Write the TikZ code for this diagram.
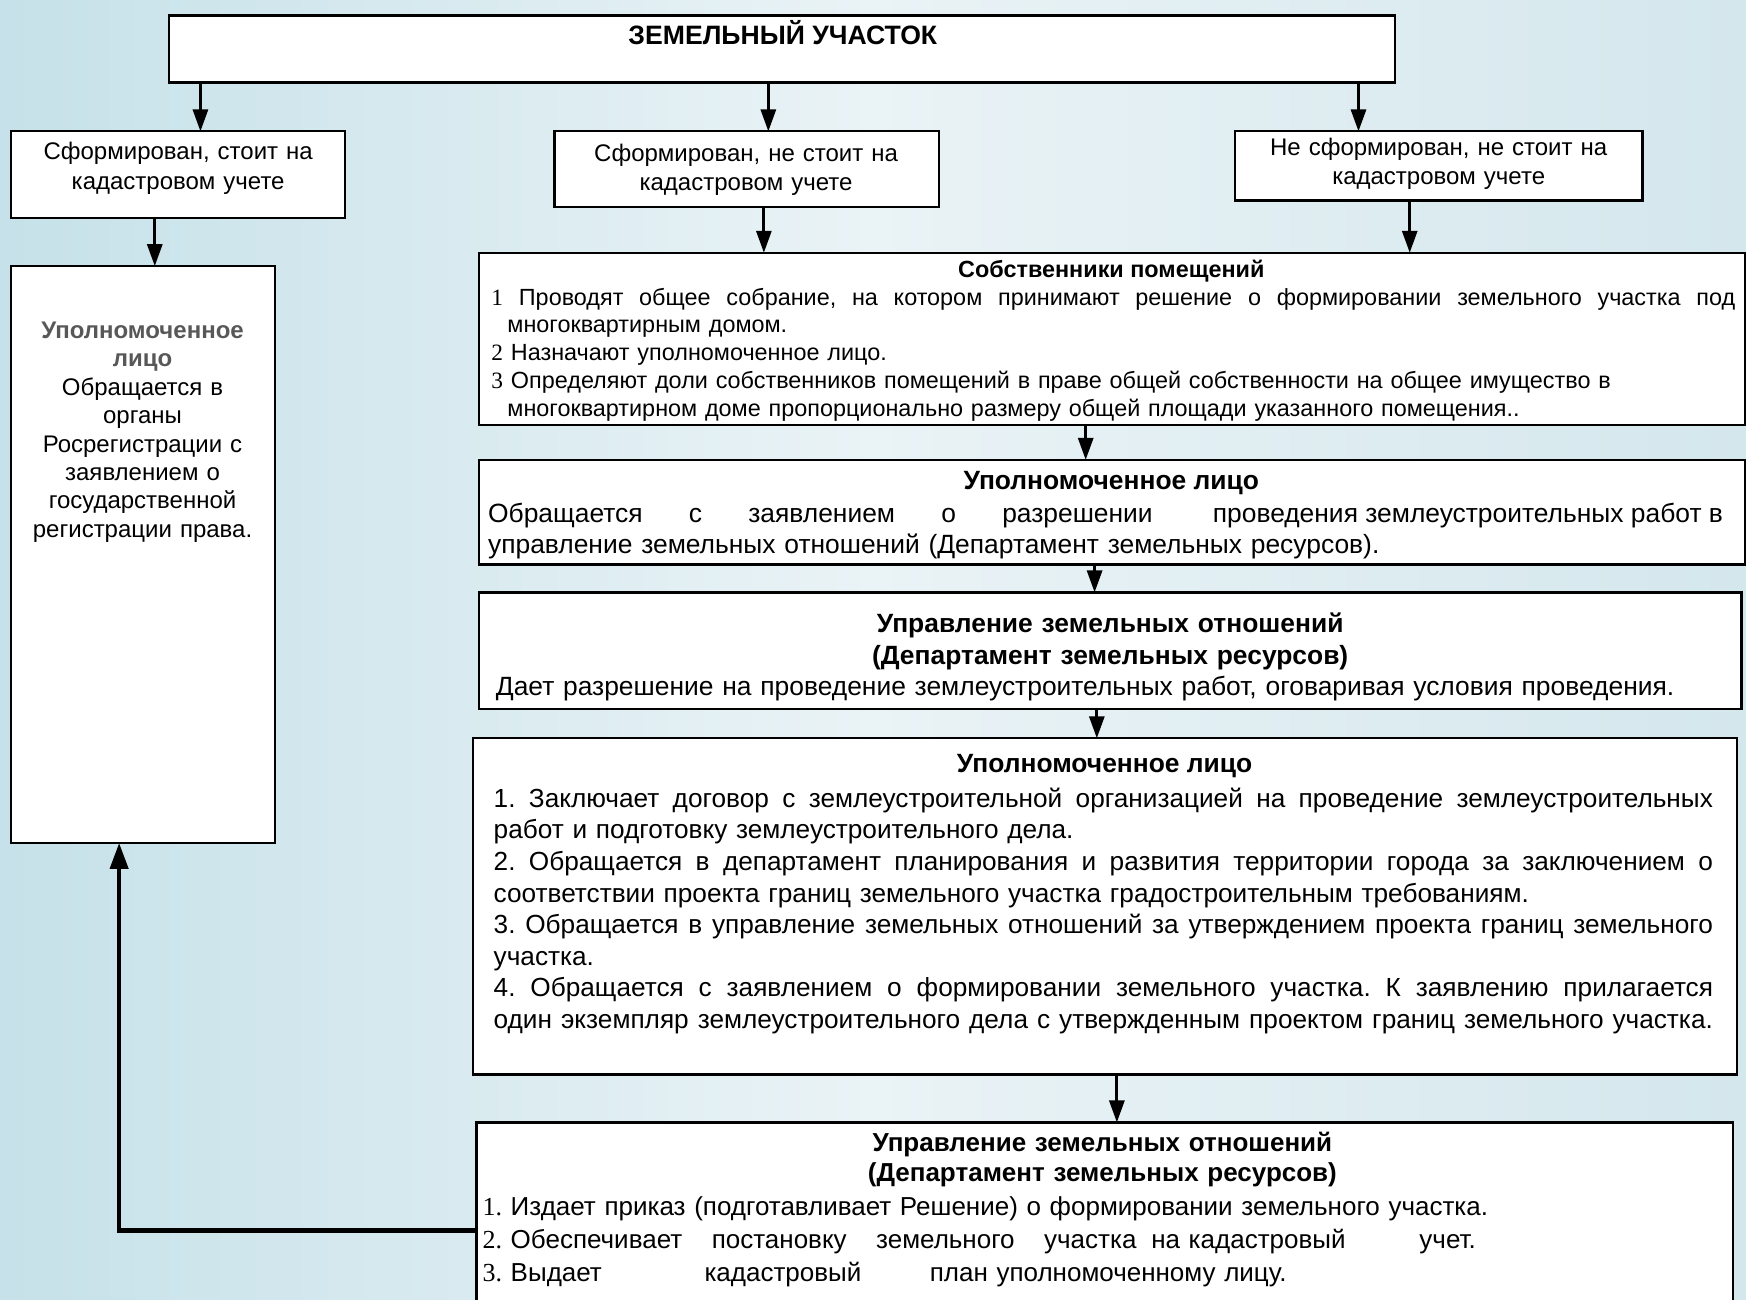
\documentclass[tikz,border=0pt]{standalone}
\usepackage{fontspec}
\setmainfont{Liberation Sans}
\newfontfamily\dg{Liberation Serif}
\usetikzlibrary{arrows.meta}
\definecolor{bgl}{RGB}{198,225,233}
\definecolor{bgm}{RGB}{234,243,246}
\definecolor{bgr}{RGB}{212,231,237}
\definecolor{ttlgray}{RGB}{88,88,88}
\newcommand\JLine[1]{{\spaceskip=0pt\xspaceskip=0pt\makebox[\linewidth][s]{#1}}}
\newcommand\LLine[1]{\makebox[\linewidth][l]{#1}}
\newcommand\mkbox[5]{\node[box,minimum width={(#4-#2)*0.5568pt},minimum height={(#5-#3)*0.5568pt}] (#1) at (#2,#3) {};}
\frenchspacing
\begin{document}
\begin{tikzpicture}[x=0.5568pt,y=-0.5568pt,
  box/.style={draw=black,line width=1.1pt,fill=white,anchor=north west,inner sep=0pt,outer sep=0pt},
  arr/.style={line width=1.5pt,-{Triangle[length=11pt,width=7.5pt]}},
  arrup/.style={line width=2.1pt,-{Triangle[length=13pt,width=9pt]}},
  ctext/.style={inner sep=0pt,anchor=base,align=center},
  ltext/.style={inner sep=0pt,anchor=base west,align=left}
]
\useasboundingbox (0,0) rectangle (1568,1167);
\clip (0,0) rectangle (1568,1167);
\shade[left color=bgl,right color=bgr,middle color=bgm] (0,0) rectangle (1568,1167);

% boxes
\mkbox{T}{152}{14}{1253}{74}
\mkbox{A}{10}{118}{310}{196}
\mkbox{B}{498}{118}{843}{186}
\mkbox{C}{1109}{118}{1475}{180}
\mkbox{L}{10}{239}{247}{757}
\mkbox{S}{430}{227}{1567}{382}
\mkbox{U1}{430}{413}{1567}{507}
\mkbox{D1}{430}{532}{1564}{637}
\mkbox{U2}{425}{663}{1560}{965}
\mkbox{D2}{428}{1008}{1556}{1180}

% texts
\node[ctext,font=\bfseries\fontsize{13.3}{16}\selectfont] (Tt) at (703,40) {ЗЕМЕЛЬНЫЙ УЧАСТОК};
\node[ctext,text width={300*0.5568pt},font=\fontsize{12}{15}\selectfont] (At) at (160,143) {Сформирован, стоит на\\кадастровом учете};
\node[ctext,text width={345*0.5568pt},font=\fontsize{12}{14.5}\selectfont] (Bt) at (670,145) {Сформирован, не стоит на\\кадастровом учете};
\node[ctext,text width={366*0.5568pt},font=\fontsize{12}{14.5}\selectfont] (Ct) at (1292,140) {Не сформирован, не стоит на\\кадастровом учете};

\node[ctext,text width={237*0.5568pt},font=\fontsize{12}{14.2}\selectfont] (Lt) at (128,304)
 {{\bfseries\color{ttlgray}Уполномоченное}\\{\bfseries\color{ttlgray}лицо}\\Обращается в\\органы\\Росрегистрации с\\заявлением о\\государственной\\регистрации права.};

\node[ctext,font=\bfseries\fontsize{11.7}{14}\selectfont] (St) at (998,249) {Собственники помещений};
\node[ltext,text width={1117*0.5568pt},font=\fontsize{11.7}{13.9}\selectfont] (Sb) at (441,274) {%
\JLine{{\dg 1} Проводят общее собрание, на котором принимают решение о формировании земельного участка под}\\
\LLine{\hspace*{8pt}многоквартирным домом.}\\
\LLine{{\dg 2} Назначают уполномоченное лицо.}\\
\LLine{{\dg 3} Определяют доли собственников помещений в праве общей собственности на общее имущество в}\\
\LLine{\hspace*{8pt}многоквартирном доме пропорционально размеру общей площади указанного помещения..}};

\node[ctext,font=\bfseries\fontsize{13.2}{16}\selectfont] (U1t) at (998,440) {Уполномоченное лицо};
\node[ltext,text width={1109*0.5568pt},font=\fontsize{13.2}{15.6}\selectfont] (U1b) at (438,469) {%
\JLine{Обращается\hspace{\stretch{1}}с\hspace{\stretch{1}}заявлением\hspace{\stretch{1}}о\hspace{\stretch{1}}разрешении\hspace{\stretch{1.3}}проведения землеустроительных работ в}\\
\LLine{управление земельных отношений (Департамент земельных ресурсов).}};

\node[ctext,text width={700*0.5568pt},font=\bfseries\fontsize{13.2}{16.1}\selectfont] (D1t) at (997,568) {Управление земельных отношений\\(Департамент земельных ресурсов)};
\node[ltext,text width={1110*0.5568pt},font=\fontsize{13.2}{15}\selectfont] (D1b) at (445,625) {%
\LLine{Дает разрешение на проведение землеустроительных работ, оговаривая условия проведения.}};

\node[ctext,font=\bfseries\fontsize{13.2}{16}\selectfont] (U2t) at (992,694) {Уполномоченное лицо};
\node[ltext,text width={1095*0.5568pt},font=\fontsize{13.1}{15.8}\selectfont] (U2b) at (443,725) {%
\JLine{1. Заключает договор с землеустроительной организацией на проведение землеустроительных}\\
\LLine{работ и подготовку землеустроительного дела.}\\
\JLine{2. Обращается в департамент планирования и развития территории города за заключением о}\\
\LLine{соответствии проекта границ земельного участка градостроительным требованиям.}\\
\JLine{3. Обращается в управление земельных отношений за утверждением проекта границ земельного}\\
\LLine{участка.}\\
\JLine{4. Обращается с заявлением о формировании земельного участка. К заявлению прилагается}\\
\JLine{один экземпляр землеустроительного дела с утвержденным проектом границ земельного участка.}};

\node[ctext,text width={700*0.5568pt},font=\bfseries\fontsize{13}{15}\selectfont] (D2t) at (990,1034) {Управление земельных отношений\\(Департамент земельных ресурсов)};
\node[ltext,text width={1100*0.5568pt},font=\fontsize{13}{16.4}\selectfont] (D2b) at (433,1092) {%
\LLine{{\dg 1.} Издает приказ (подготавливает Решение) о формировании земельного участка.}\\
\LLine{\makebox[496.7pt][s]{{\dg 2.} Обеспечивает\hspace{\stretch{1}}постановку\hspace{\stretch{1}}земельного\hspace{\stretch{1}}участка\hspace{\stretch{0.5}}на кадастровый\hspace{\stretch{2.5}}учет.}}\\
\LLine{\makebox[402pt][s]{{\dg 3.} Выдает\hspace{\stretch{1.5}}кадастровый\hspace{\stretch{1}}план уполномоченному лицу.}}};

% connector x positions
\coordinate (xa) at (180,0);
\coordinate (xb) at (690,0);
\coordinate (xc) at (1220,0);
\coordinate (xal) at (139,0);
\coordinate (xbs) at (686,0);
\coordinate (xcs) at (1266,0);
\coordinate (xsu) at (975,0);
\coordinate (xud) at (983,0);
\coordinate (xdu) at (985,0);
\coordinate (xud2) at (1003,0);
\coordinate (ret) at (107,1105);

\draw[arr] (T.south -| xa) -- (A.north -| xa);
\draw[arr] (T.south -| xb) -- (B.north -| xb);
\draw[arr] (T.south -| xc) -- (C.north -| xc);
\draw[arr] (A.south -| xal) -- (L.north -| xal);
\draw[arr] (B.south -| xbs) -- (S.north -| xbs);
\draw[arr] (C.south -| xcs) -- (S.north -| xcs);
\draw[arr] (S.south -| xsu) -- (U1.north -| xsu);
\draw[arr] (U1.south -| xud) -- (D1.north -| xud);
\draw[arr] (D1.south -| xdu) -- (U2.north -| xdu);
\draw[arr] (U2.south -| xud2) -- (D2.north -| xud2);
\draw[arrup] (D2.west |- ret) -| (L.south -| ret);
\end{tikzpicture}
\end{document}
